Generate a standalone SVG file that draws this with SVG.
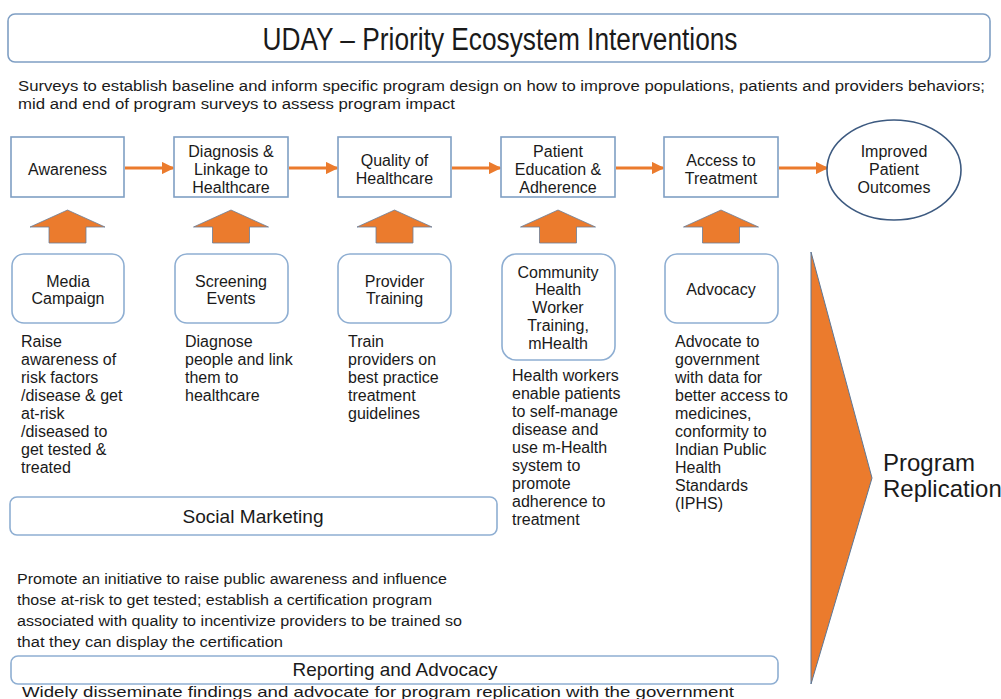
<svg xmlns="http://www.w3.org/2000/svg" width="1001" height="699" viewBox="0 0 1001 699">
<defs>
<style>
text{font-family:"Liberation Sans",Arial,sans-serif;fill:#1a1a1a}
.t16{font-size:16px}
.c{text-anchor:middle}
.box{fill:#fff;stroke:#7f9fc4;stroke-width:1.6}
.rbox{fill:#fff;stroke:#8eaed2;stroke-width:1.6}
.conn{stroke:#eb7b2d;stroke-width:3;fill:none}
.blk{fill:#eb7b2d;stroke:#6b7f99;stroke-width:0.8}
</style>
<marker id="ah" viewBox="0 0 10 10" refX="9" refY="5" markerWidth="4.2" markerHeight="4.2" orient="auto" markerUnits="strokeWidth">
<path d="M0,0 L10,5 L0,10 z" fill="#eb7b2d"/>
</marker>
</defs>
<rect width="1001" height="699" fill="#fff"/>

<g id="title">
<rect x="8" y="14" width="982" height="48" rx="7" class="box"/>
<text x="500" y="50" class="c" font-size="31" textLength="475" lengthAdjust="spacingAndGlyphs">UDAY – Priority Ecosystem Interventions</text>
</g>

<g id="surveys">
<text x="18" y="91" font-size="15.5" textLength="967" lengthAdjust="spacingAndGlyphs">Surveys to establish baseline and inform specific program design on how to improve populations, patients and providers behaviors;</text>
<text x="18" y="109" font-size="15.5" textLength="437" lengthAdjust="spacingAndGlyphs">mid and end of program surveys to assess program impact</text>
</g>

<g id="connectors">
<line x1="125" y1="168" x2="173" y2="168" class="conn" marker-end="url(#ah)"/>
<line x1="289" y1="168" x2="337" y2="168" class="conn" marker-end="url(#ah)"/>
<line x1="452" y1="168" x2="500" y2="168" class="conn" marker-end="url(#ah)"/>
<line x1="616" y1="168" x2="663" y2="168" class="conn" marker-end="url(#ah)"/>
<line x1="779" y1="168" x2="827" y2="168" class="conn" marker-end="url(#ah)"/>
<path class="blk" d="M67.5,210 L105,227 L86,227 L86,243 L49,243 L49,227 L30,227 Z"/>
<path class="blk" d="M231,210 L268.5,227 L249.5,227 L249.5,243 L212.5,243 L212.5,227 L193.5,227 Z"/>
<path class="blk" d="M394.5,210 L432,227 L413,227 L413,243 L376,243 L376,227 L357,227 Z"/>
<path class="blk" d="M558,210 L595.5,227 L576.5,227 L576.5,243 L539.5,243 L539.5,227 L520.5,227 Z"/>
<path class="blk" d="M721,210 L758.5,227 L739.5,227 L739.5,243 L702.5,243 L702.5,227 L683.5,227 Z"/>
</g>

<g id="awareness">
<rect x="11" y="137" width="113" height="60" class="box"/>
<text x="67.5" y="175" class="t16 c">Awareness</text>
</g>
<g id="diagnosis">
<rect x="174" y="137" width="114" height="60" class="box"/>
<text x="231" y="157" class="t16 c">Diagnosis &amp;</text>
<text x="231" y="175" class="t16 c">Linkage to</text>
<text x="231" y="193" class="t16 c">Healthcare</text>
</g>
<g id="quality">
<rect x="338" y="137" width="113" height="60" class="box"/>
<text x="394.5" y="166" class="t16 c">Quality of</text>
<text x="394.5" y="184" class="t16 c">Healthcare</text>
</g>
<g id="patient-education">
<rect x="501" y="137" width="114" height="60" class="box"/>
<text x="558" y="157" class="t16 c">Patient</text>
<text x="558" y="175" class="t16 c">Education &amp;</text>
<text x="558" y="193" class="t16 c">Adherence</text>
</g>
<g id="access">
<rect x="664" y="137" width="114" height="60" class="box"/>
<text x="721" y="166" class="t16 c">Access to</text>
<text x="721" y="184" class="t16 c">Treatment</text>
</g>
<g id="outcomes">
<ellipse cx="894" cy="170" rx="67" ry="50" fill="#fff" stroke="#3d5a80" stroke-width="1.6"/>
<text x="894" y="157" class="t16 c">Improved</text>
<text x="894" y="175" class="t16 c">Patient</text>
<text x="894" y="193" class="t16 c">Outcomes</text>
</g>

<g id="media-campaign">
<rect x="12" y="254" width="112" height="69" rx="12" class="rbox"/>
<text x="68" y="287" class="t16 c">Media</text>
<text x="68" y="304" class="t16 c">Campaign</text>
<text x="21" y="347" class="t16">Raise</text>
<text x="21" y="365" class="t16">awareness of</text>
<text x="21" y="383" class="t16">risk factors</text>
<text x="21" y="401" class="t16">/disease &amp; get</text>
<text x="21" y="419" class="t16">at-risk</text>
<text x="21" y="437" class="t16">/diseased to</text>
<text x="21" y="455" class="t16">get tested &amp;</text>
<text x="21" y="473" class="t16">treated</text>
</g>

<g id="screening">
<rect x="175" y="254" width="113" height="69" rx="12" class="rbox"/>
<text x="231" y="287" class="t16 c">Screening</text>
<text x="231" y="304" class="t16 c">Events</text>
<text x="185" y="347" class="t16">Diagnose</text>
<text x="185" y="365" class="t16">people and link</text>
<text x="185" y="383" class="t16">them to</text>
<text x="185" y="401" class="t16">healthcare</text>
</g>

<g id="provider-training">
<rect x="338" y="254" width="113" height="69" rx="12" class="rbox"/>
<text x="394.5" y="287" class="t16 c">Provider</text>
<text x="394.5" y="304" class="t16 c">Training</text>
<text x="348" y="347" class="t16">Train</text>
<text x="348" y="365" class="t16">providers on</text>
<text x="348" y="383" class="t16">best practice</text>
<text x="348" y="401" class="t16">treatment</text>
<text x="348" y="419" class="t16">guidelines</text>
</g>

<g id="community-health">
<rect x="502" y="254" width="113" height="106" rx="14" class="rbox"/>
<text x="558" y="278" class="t16 c">Community</text>
<text x="558" y="295" class="t16 c">Health</text>
<text x="558" y="313" class="t16 c">Worker</text>
<text x="558" y="331" class="t16 c">Training,</text>
<text x="558" y="349" class="t16 c">mHealth</text>
<text x="512" y="381" class="t16">Health workers</text>
<text x="512" y="399" class="t16">enable patients</text>
<text x="512" y="417" class="t16">to self-manage</text>
<text x="512" y="435" class="t16">disease and</text>
<text x="512" y="453" class="t16">use m-Health</text>
<text x="512" y="471" class="t16">system to</text>
<text x="512" y="489" class="t16">promote</text>
<text x="512" y="507" class="t16">adherence to</text>
<text x="512" y="525" class="t16">treatment</text>
</g>

<g id="advocacy">
<rect x="665" y="254" width="113" height="69" rx="12" class="rbox"/>
<text x="721" y="295" class="t16 c">Advocacy</text>
<text x="675" y="347" class="t16">Advocate to</text>
<text x="675" y="365" class="t16">government</text>
<text x="675" y="383" class="t16">with data for</text>
<text x="675" y="401" class="t16">better access to</text>
<text x="675" y="419" class="t16">medicines,</text>
<text x="675" y="437" class="t16">conformity to</text>
<text x="675" y="455" class="t16">Indian Public</text>
<text x="675" y="473" class="t16">Health</text>
<text x="675" y="491" class="t16">Standards</text>
<text x="675" y="509" class="t16">(IPHS)</text>
</g>

<g id="program-replication">
<path d="M811,252 L872,478 L811,684 Z" fill="#eb7b2d" stroke="#5d7796" stroke-width="1"/>
<text x="883" y="471" font-size="24">Program</text>
<text x="883" y="497" font-size="24">Replication</text>
</g>

<g id="social-marketing">
<rect x="10" y="497" width="487" height="38" rx="7" class="rbox"/>
<text x="253" y="523" class="c" font-size="18.5" textLength="141" lengthAdjust="spacingAndGlyphs">Social Marketing</text>
<text x="17" y="584" font-size="15.5" textLength="430" lengthAdjust="spacingAndGlyphs">Promote an initiative to raise public awareness and influence</text>
<text x="17" y="605" font-size="15.5" textLength="415" lengthAdjust="spacingAndGlyphs">those at-risk to get tested; establish a certification program</text>
<text x="17" y="626" font-size="15.5" textLength="445" lengthAdjust="spacingAndGlyphs">associated with quality to incentivize providers to be trained so</text>
<text x="17" y="647" font-size="15.5" textLength="266" lengthAdjust="spacingAndGlyphs">that they can display the certification</text>
</g>

<g id="reporting">
<rect x="11" y="656" width="767" height="28" rx="7" class="rbox"/>
<text x="395" y="676" class="c" font-size="18.5" textLength="205" lengthAdjust="spacingAndGlyphs">Reporting and Advocacy</text>
<text x="22" y="697" font-size="15" textLength="712" lengthAdjust="spacingAndGlyphs">Widely disseminate findings and advocate for program replication with the government</text>
</g>
</svg>
